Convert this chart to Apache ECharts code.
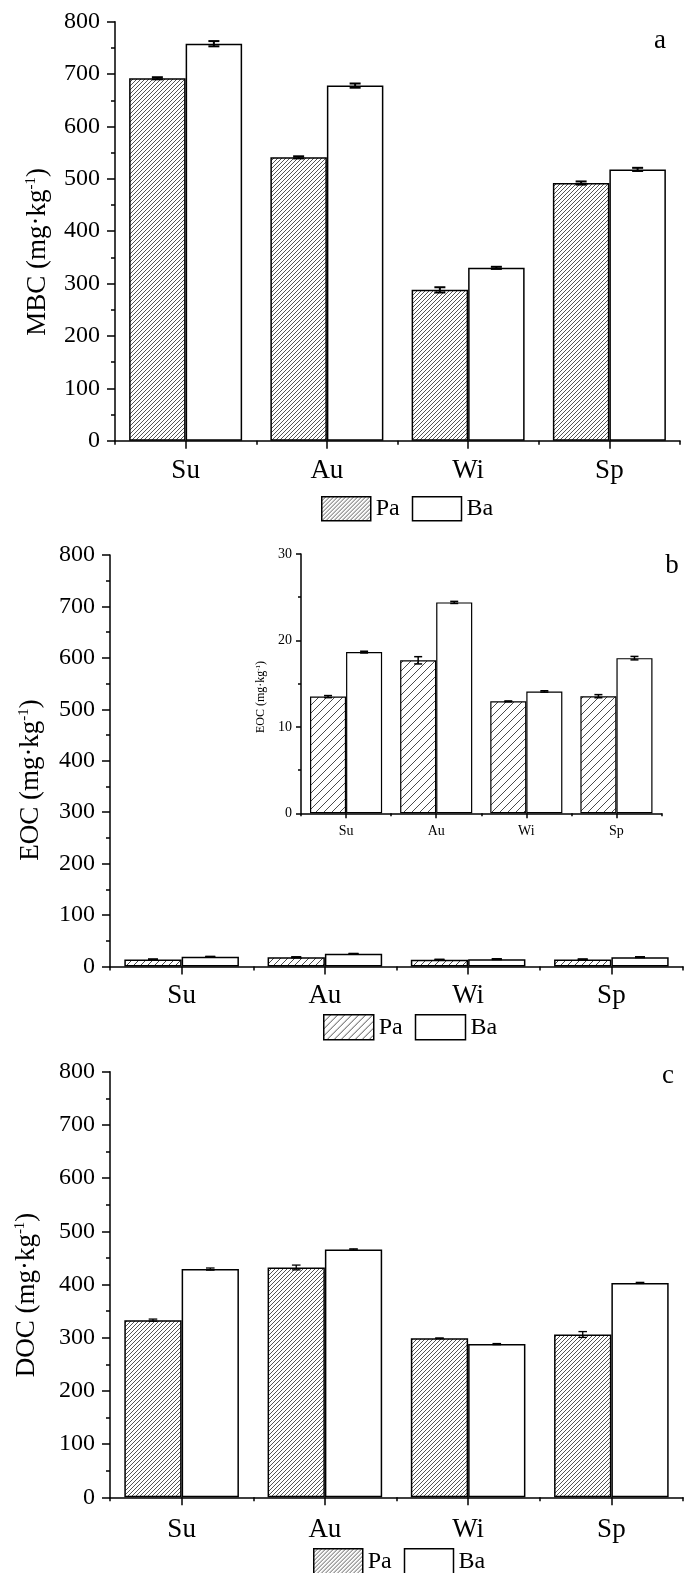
<!DOCTYPE html>
<html>
<head>
<meta charset="utf-8">
<script src="https://cdn.jsdelivr.net/npm/echarts@6/dist/echarts.min.js"></script>
<style>
html,body{margin:0;padding:0;background:#fff;}
#chart{width:685px;height:1573px;}
</style>
</head>
<body>
<div id="chart"></div>
<script>
// ---- data ----
const categories = ['Su', 'Au', 'Wi', 'Sp'];
const seriesNames = ['Pa', 'Ba'];
const yTicksMain = [0, 100, 200, 300, 400, 500, 600, 700, 800];
const yTicksInset = [0, 10, 20, 30];

const mbcPa = [692, 541, 288, 492];
const mbcBa = [758, 678, 330, 518];
const mbcPaErr = [2, 2, 5, 3];
const mbcBaErr = [5, 4, 2, 3];

const eocPa = [13.5, 17.7, 12.95, 13.55];
const eocBa = [18.65, 24.4, 14.1, 17.95];
const eocPaErr = [0.12, 0.42, 0.05, 0.18];
const eocBaErr = [0.1, 0.12, 0.08, 0.2];

const docPa = [333, 432, 299, 306];
const docBa = [429, 466, 288, 403];
const docPaErr = [2, 4.5, 0.5, 5.5];
const docBaErr = [2, 1, 1, 1];

// ---- styles ----
const FONT = "'Liberation Serif', 'Times New Roman', serif";

function hatch(step, color, lw) {
  const c = document.createElement('canvas');
  c.width = step; c.height = step;
  const g = c.getContext('2d');
  g.fillStyle = '#fff';
  g.fillRect(0, 0, step, step);
  g.strokeStyle = color;
  g.lineWidth = lw;
  g.beginPath();
  g.moveTo(0, step); g.lineTo(step, 0);
  g.moveTo(-1, 1); g.lineTo(1, -1);
  g.moveTo(step - 1, step + 1); g.lineTo(step + 1, step - 1);
  g.stroke();
  return { image: c, repeat: 'repeat' };
}
const hatchDense = hatch(4, '#555555', 1);
const hatchSparse = hatch(7, '#4a4a4a', 1);
const hatchInset = hatch(8, '#4a4a4a', 1);

const grids = [
  { left: 115, top: 21.7, width: 565, height: 419 },
  { left: 110, top: 555, width: 573, height: 411.4 },
  { left: 301, top: 554, width: 360.5, height: 259.3 },
  { left: 110, top: 1071.7, width: 573, height: 425.6 }
];

function xAxesFor(gi, labelSize, margin, tickLen, minorLen) {
  return [
    {
      type: 'category', gridIndex: gi, data: categories, position: 'bottom',
      axisLine: { show: true, lineStyle: { color: '#000', width: 1.5 } },
      axisTick: { show: true, alignWithLabel: true, length: tickLen, lineStyle: { color: '#000', width: 1.5 } },
      axisLabel: { show: true, color: '#000', fontSize: labelSize, fontFamily: FONT, margin: margin },
      splitLine: { show: false }
    },
    {
      type: 'category', gridIndex: gi, data: categories, position: 'bottom',
      axisLine: { show: false },
      axisTick: { show: true, alignWithLabel: false, length: minorLen, lineStyle: { color: '#000', width: 1.5 } },
      axisLabel: { show: false },
      splitLine: { show: false }
    }
  ];
}

function yAxisFor(gi, ticks, labelSize, margin, tickLen, minorLen) {
  return {
    type: 'value', gridIndex: gi,
    min: ticks[0], max: ticks[ticks.length - 1], interval: ticks[1] - ticks[0],
    axisLine: { show: true, lineStyle: { color: '#000', width: 1.5 } },
    axisTick: { show: true, inside: false, length: tickLen, lineStyle: { color: '#000', width: 1.5 } },
    minorTick: { show: true, splitNumber: 2, length: minorLen, lineStyle: { color: '#000', width: 1.5 } },
    axisLabel: { show: true, color: '#000', fontSize: labelSize, fontFamily: FONT, margin: margin },
    splitLine: { show: false }
  };
}

function barSeries(name, xi, yi, vals, color, bw) {
  return {
    type: 'bar', name: name, xAxisIndex: xi, yAxisIndex: yi, data: vals,
    barGap: '0%', barCategoryGap: '20%',
    itemStyle: { color: color, borderColor: '#000', borderWidth: bw },
    emphasis: { disabled: true },
    z: 2
  };
}

function errSeries(xi, yi, vals, errs, offset, capHalf, lw) {
  return {
    type: 'custom', xAxisIndex: xi, yAxisIndex: yi, silent: true, z: 10,
    data: vals.map((v, i) => [i, v, errs[i]]),
    encode: { x: 0, y: 1 },
    renderItem: function (params, api) {
      const i = api.value(0), v = api.value(1), e = api.value(2);
      const band = api.size([1, 0])[0];
      const x = api.coord([i, v])[0] + offset * band;
      const yt = api.coord([i, v + e])[1];
      const yb = api.coord([i, v - e])[1];
      const st = { stroke: '#000', lineWidth: lw };
      return {
        type: 'group',
        children: [
          { type: 'line', shape: { x1: x, y1: yt, x2: x, y2: yb }, style: st },
          { type: 'line', shape: { x1: x - capHalf, y1: yt, x2: x + capHalf, y2: yt }, style: st },
          { type: 'line', shape: { x1: x - capHalf, y1: yb, x2: x + capHalf, y2: yb }, style: st }
        ]
      };
    }
  };
}

function legendFor(left, top, pat, w, h, fs) {
  return {
    left: left, top: top, orient: 'horizontal', itemWidth: w, itemHeight: h, itemGap: 12,
    selectedMode: false,
    textStyle: { color: '#000', fontSize: fs, fontFamily: FONT },
    data: [
      { name: seriesNames[0], icon: 'rect', itemStyle: { color: pat, borderColor: '#000', borderWidth: 1.5 } },
      { name: seriesNames[1], icon: 'rect', itemStyle: { color: '#fff', borderColor: '#000', borderWidth: 1.5 } }
    ]
  };
}

function yTitle(x, y, label, fs, sfs) {
  return {
    type: 'text', x: x, y: y, rotation: Math.PI / 2, silent: true,
    style: {
      text: '{n|' + label + ' (mg·kg}{s|-1}{n|)}',
      align: 'center', verticalAlign: 'middle',
      rich: {
        n: { fontSize: fs, fontFamily: FONT, fill: '#000', lineHeight: fs * 1.1 },
        s: { fontSize: sfs, fontFamily: FONT, fill: '#000', lineHeight: sfs, verticalAlign: 'top' }
      }
    }
  };
}

function letter(x, y, t) {
  return {
    type: 'text', x: x, y: y, silent: true,
    style: { text: t, fontSize: 27, fontFamily: FONT, fill: '#000', align: 'center', verticalAlign: 'middle' }
  };
}

const xAxes = []
  .concat(xAxesFor(0, 27, 17, 8, 4))
  .concat(xAxesFor(1, 27, 16, 8, 4))
  .concat(xAxesFor(2, 14, 11, 5, 3))
  .concat(xAxesFor(3, 27, 19, 8, 4));

const yAxes = [
  yAxisFor(0, yTicksMain, 24, 15, 8, 4),
  yAxisFor(1, yTicksMain, 24, 15, 8, 4),
  yAxisFor(2, yTicksInset, 14, 9, 5, 3),
  yAxisFor(3, yTicksMain, 24, 15, 8, 4)
];

const series = [
  barSeries(seriesNames[0], 0, 0, mbcPa, hatchDense, 1.5),
  barSeries(seriesNames[1], 0, 0, mbcBa, '#fff', 1.5),
  errSeries(0, 0, mbcPa, mbcPaErr, -0.2, 5.5, 2),
  errSeries(0, 0, mbcBa, mbcBaErr, 0.2, 5.5, 2),

  barSeries(seriesNames[0], 2, 1, eocPa, hatchSparse, 1.5),
  barSeries(seriesNames[1], 2, 1, eocBa, '#fff', 1.5),
  errSeries(2, 1, eocPa, eocPaErr, -0.2, 5, 2),
  errSeries(2, 1, eocBa, eocBaErr, 0.2, 5, 2),

  barSeries(seriesNames[0], 4, 2, eocPa, hatchInset, 1.2),
  barSeries(seriesNames[1], 4, 2, eocBa, '#fff', 1.2),
  errSeries(4, 2, eocPa, eocPaErr, -0.2, 4, 1.5),
  errSeries(4, 2, eocBa, eocBaErr, 0.2, 4, 1.5),

  barSeries(seriesNames[0], 6, 3, docPa, hatchDense, 1.5),
  barSeries(seriesNames[1], 6, 3, docBa, '#fff', 1.5),
  errSeries(6, 3, docPa, docPaErr, -0.2, 4.3, 1.3),
  errSeries(6, 3, docBa, docBaErr, 0.2, 4.3, 1.3)
];

const chart = echarts.init(document.getElementById('chart'), null, { renderer: 'canvas', width: 685, height: 1573 });
chart.setOption({
  animation: false,
  backgroundColor: '#fff',
  textStyle: { fontFamily: FONT },
  grid: grids,
  xAxis: xAxes,
  yAxis: yAxes,
  legend: [
    legendFor(316, 491, hatchDense, 49, 24, 24),
    legendFor(318, 1009, hatchSparse, 50, 25, 24),
    legendFor(308, 1543, hatchDense, 49, 26, 24)
  ],
  series: series,
  graphic: [
    yTitle(38, 252, 'MBC', 27, 15),
    yTitle(31, 780, 'EOC', 27, 15),
    yTitle(261, 697, 'EOC', 12, 7),
    yTitle(27, 1295, 'DOC', 27, 15),
    letter(660, 41, 'a'),
    letter(672, 566, 'b'),
    letter(668, 1076, 'c')
  ]
});
</script>
</body>
</html>
